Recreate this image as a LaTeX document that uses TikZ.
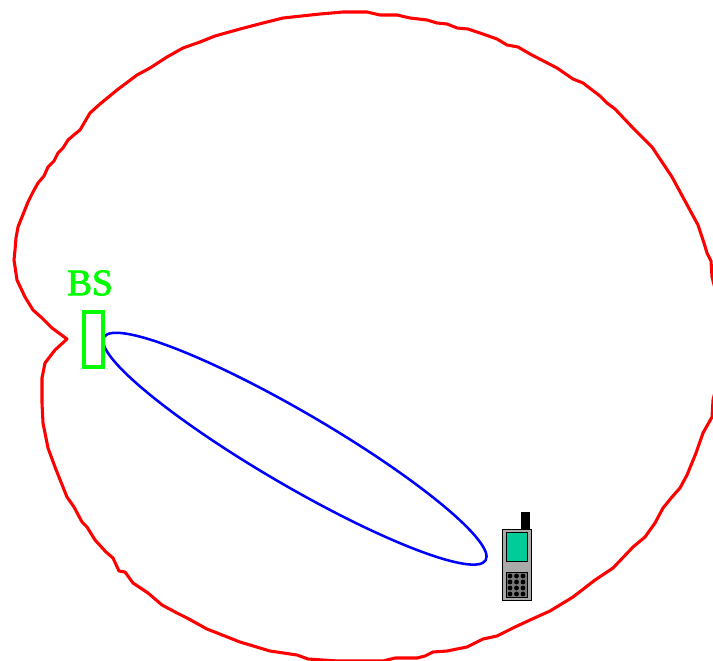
\documentclass[tikz,border=0pt]{standalone}
\usepackage{fontspec}
\setmainfont{Liberation Serif}
\newfontfamily\bsfont[FakeBold=2.2]{Liberation Serif}
\definecolor{pure}{RGB}{0,255,0}
\definecolor{screen}{RGB}{0,204,153}
\tikzset{
  outline/.style={draw=red,line width=2.3pt,line join=round},
  beam/.style={draw=blue,line width=1.9pt},
  bsbox/.style={draw=pure,line width=2.6pt},
  dot/.style={fill=black,draw=none},
}
\begin{document}
\begin{tikzpicture}[x=0.75pt,y=-0.75pt]
\useasboundingbox (0,0) rectangle (713,660);
\begin{scope}
\clip (0,0) rectangle (713,660);
\draw[outline] (67,339) -- (52,328) -- (42,318) -- (33,310) -- (25,297) -- (17,280) -- (14,260) -- (15,250) -- (16,238) -- (18,227) -- (24,212) -- (28,202) -- (33,192) -- (38,183) -- (44,176) -- (48,167) -- (54,161) -- (58,153) -- (63,148) -- (68,140) -- (75,134) -- (80,130) -- (90,113) -- (100,104) -- (117,90) -- (137,75) -- (150,68) -- (167,57) -- (183,48) -- (200,42) -- (215,36) -- (240,29) -- (263,23) -- (283,18) -- (320,14) -- (343,12) -- (367,12) -- (380,15) -- (397,15) -- (410,18) -- (427,20) -- (437,23) -- (447,24) -- (457,28) -- (468,29) -- (480,33) -- (497,39) -- (507,45) -- (518,47) -- (530,54) -- (557,68) -- (573,79) -- (583,83) -- (600,96) -- (607,103) -- (615,109) -- (633,128) -- (652,147) -- (672,177) -- (698,225) -- (704,243) -- (707,253) -- (711,261) -- (712,277) -- (718,300) -- (718,380) -- (713,400) -- (712,417) -- (703,433) -- (696,453) -- (687,475) -- (680,488) -- (672,497) -- (663,508) -- (655,523) -- (645,537) -- (633,547) -- (613,568) -- (595,580) -- (573,597) -- (550,611) -- (530,620) -- (515,627) -- (497,636) -- (483,639) -- (467,647) -- (447,651) -- (433,652) -- (425,656) -- (417,658) -- (395,658) -- (383,661) -- (338,661) -- (308,659) -- (297,655) -- (270,651) -- (240,642) -- (207,629) -- (187,618) -- (177,613) -- (162,605) -- (148,593) -- (133,583) -- (125,572) -- (119,571) -- (113,558) -- (106,552) -- (95,540) -- (87,527) -- (82,522) -- (74,507) -- (67,497) -- (55,467) -- (48,448) -- (43,423) -- (42,403) -- (42,378) -- (45,363) -- (55,350) -- cycle;
\end{scope}
\draw[beam,shift={(294.8,448.7)},rotate=-30.3] (0,0) ellipse [x radius=165.8pt,y radius=27.4pt];
\draw[bsbox] (84,312) rectangle (103,367);
\node[text=pure,font=\bsfont\fontsize{28}{30}\selectfont,inner sep=0pt] (bs) at (90,283) {BS};
% phone
\fill[black] (521,512) rectangle (530,529);
\draw[fill={rgb,255:red,170;green,170;blue,170},draw=black,line width=0.7pt] (502,529) rectangle (531,600);
\draw[fill=screen,draw=black,line width=0.7pt] (506,532) rectangle (527,561);
\draw[fill={rgb,255:red,120;green,120;blue,120},draw=black,line width=0.7pt] (506,572) rectangle (527,597);
\foreach \x in {510,516.5,523}
  \foreach \y in {576,582,588,594}
    \fill[dot] (\x,\y) circle [radius=1.8pt];
\end{tikzpicture}
\end{document}
